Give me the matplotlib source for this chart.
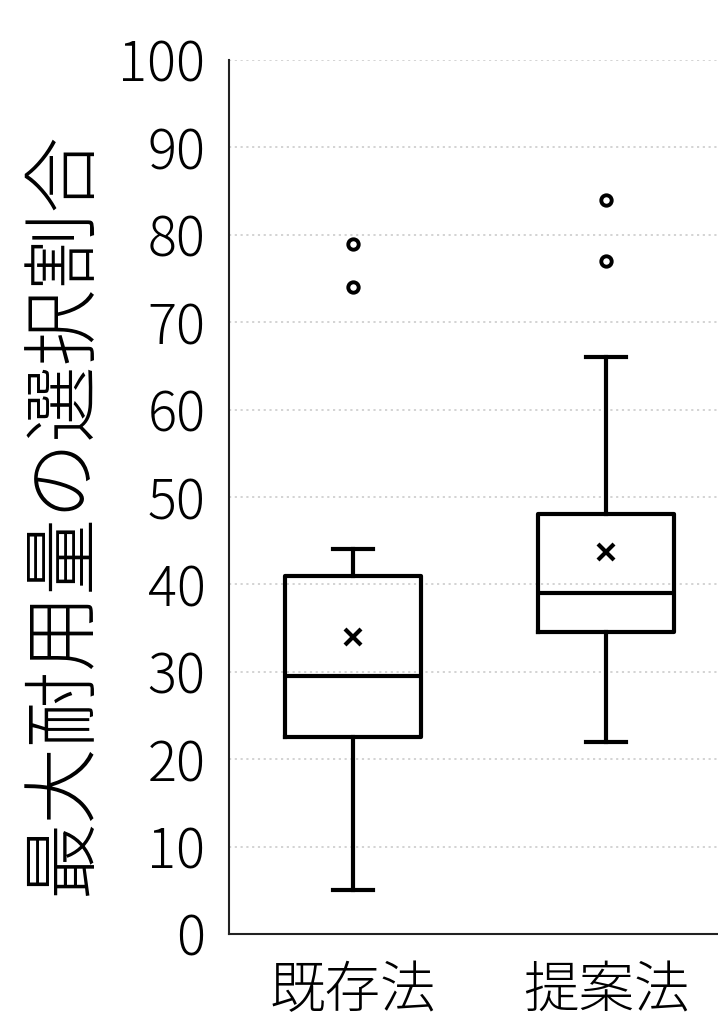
import matplotlib
matplotlib.use("Agg")
import matplotlib.pyplot as plt

plt.rcParams['font.family'] = ['Noto Sans CJK JP', 'DejaVu Sans']
plt.rcParams['font.weight'] = 'light'

categories = ["既存法", "提案法"]
whislo = [5, 22]
q1 = [22.5, 34.5]
med = [29.5, 39]
q3 = [41, 48]
whishi = [44, 66]
means = [34, 43.7]
fliers = [[74, 79], [77, 84]]
yticks = [0, 10, 20, 30, 40, 50, 60, 70, 80, 90, 100]
ylabel = "最大耐用量の選択割合"

W, H = 718, 1025
fig = plt.figure(figsize=(W / 100, H / 100), dpi=100)
ax = fig.add_axes([229 / W, (H - 934) / H, (W - 229) / W, (934 - 60) / H])

stats = []
for i in range(len(categories)):
    stats.append(dict(label=categories[i], whislo=whislo[i], q1=q1[i], med=med[i],
                      q3=q3[i], whishi=whishi[i], mean=means[i], fliers=fliers[i]))

lw = 3.0
ax.bxp(stats, positions=[1, 2], widths=0.537, capwidths=0.158, showmeans=True,
       boxprops=dict(color='black', linewidth=lw),
       medianprops=dict(color='black', linewidth=lw),
       whiskerprops=dict(color='black', linewidth=lw),
       capprops=dict(color='black', linewidth=lw),
       meanprops=dict(marker='x', markersize=12, markeredgecolor='black',
                      markeredgewidth=3.0),
       flierprops=dict(marker='o', markersize=7.5, markerfacecolor='white',
                       markeredgecolor='black', markeredgewidth=2.8))

ax.set_xlim(0.51, 2.443)
ax.set_ylim(0, 100)
ax.set_yticks(yticks)
ax.grid(axis='y', color='#d0d0d0', linestyle=(0, (1.2, 2.0)), linewidth=1.3)
ax.set_axisbelow(True)

for s in ['top', 'right']:
    ax.spines[s].set_visible(False)
for s in ['left', 'bottom']:
    ax.spines[s].set_color('#222222')
    ax.spines[s].set_linewidth(1.5)

ax.tick_params(axis='y', length=0, pad=17, labelsize=39)
ax.tick_params(axis='x', length=0, pad=20, labelsize=40)
ax.set_xticks([1, 2])
ax.set_xticklabels(categories)

fig.text(64 / W, 0.4995, ylabel, rotation=90, ha='center', va='center',
         fontsize=55, fontweight='light')

fig.savefig("out.png", dpi=100)
